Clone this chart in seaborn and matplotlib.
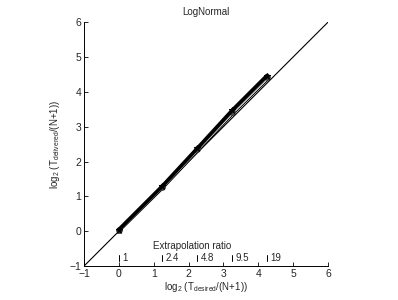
import numpy as np
import pandas as pd
import matplotlib
matplotlib.use("Agg")
import matplotlib.pyplot as plt
import seaborn as sns

# data
x_desired = [0, 1.25, 2.25, 3.25, 4.25]
y_black = [0.05, 1.30, 2.38, 3.47, 4.47]
y_gray = [0.04, 1.28, 2.35, 3.43, 4.42]
y_white = [0.02, 1.25, 2.31, 3.37, 4.36]
ratio_pos = [0, 1.25, 2.25, 3.25, 4.25]
ratio_labels = ['1', '2.4', '4.8', '9.5', '19']
ticks = [-1, 0, 1, 2, 3, 4, 5, 6]

sns.set_style("white")
plt.rcParams['font.family'] = ['Liberation Sans', 'DejaVu Sans']
plt.rcParams['mathtext.default'] = 'regular'
fs = 7

fig = plt.figure(figsize=(3.98, 3.0), dpi=100)
ax = fig.add_axes([0.211, 0.113, 0.613, 0.813])

# identity line
sns.lineplot(x=[-1, 6], y=[-1, 6], color='black', linewidth=0.8, ax=ax)

df_w = pd.DataFrame({'x': x_desired, 'y': y_white})
sns.lineplot(data=df_w, x='x', y='y', color='black', linewidth=2.6, ax=ax)
sns.lineplot(data=df_w, x='x', y='y', color='white', linewidth=1.2, ax=ax)
sns.lineplot(x=x_desired, y=y_gray, color='#555555', linewidth=2.0,
             marker='o', markersize=4, markeredgecolor='#333333', ax=ax)
sns.lineplot(x=x_desired, y=y_black, color='black', linewidth=2.6,
             marker='*', markersize=5, markeredgecolor='black', ax=ax)

# extrapolation ratio inner axis
for p, lab in zip(ratio_pos, ratio_labels):
    ax.plot([p, p], [-0.86, -0.68], color='black', linewidth=0.7)
    ax.text(p + 0.1, -0.77, lab, fontsize=fs, va='center', ha='left')
ax.text(2.1, -0.43, 'Extrapolation ratio', fontsize=fs, ha='center', va='center')

ax.set_xlim(-1, 6)
ax.set_ylim(-1, 6)
ax.set_xticks(ticks)
ax.set_yticks(ticks)
ax.set_xticklabels(['\u22121'] + [str(t) for t in ticks[1:]])
ax.set_yticklabels(['\u22121'] + [str(t) for t in ticks[1:]])
ax.tick_params(direction='in', length=3, width=0.7, labelsize=fs + 0.5, pad=2,
               bottom=True, left=True)
for s in ['top', 'right']:
    ax.spines[s].set_visible(False)
for s in ['left', 'bottom']:
    ax.spines[s].set_linewidth(0.7)
    ax.spines[s].set_color('black')

ax.set_title('LogNormal', fontsize=fs, pad=5)
ax.set_xlabel(r'log$_2$ (T$_{desired}$/(N+1))', fontsize=fs, labelpad=1)
ax.set_ylabel(r'log$_2$ (T$_{delivered}$/(N+1))', fontsize=fs, labelpad=5)

fig.savefig('out.png', dpi=100, facecolor='white')
